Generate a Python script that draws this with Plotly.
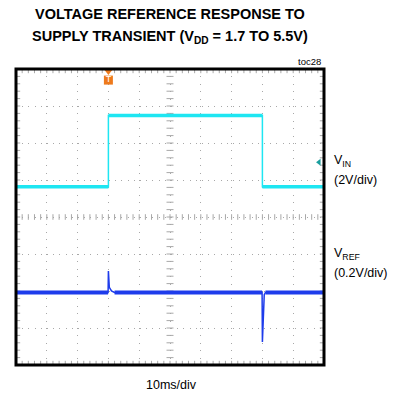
import numpy as np
import plotly.graph_objects as go

# ---- data (in scope divisions; x: 10 div @ 10ms/div, y: 8 div) ----
vin_time = [0, 3.0, 3.0, 8.0, 8.0, 10]
vin_div = [4.82, 4.82, 6.74, 6.74, 4.82, 4.82]

vref_time = [0, 2.99, 3.0, 3.03, 3.1, 3.2, 7.99, 8.0, 8.06, 8.1, 10]
vref_div = [1.96, 1.96, 2.54, 2.1, 2.0, 1.96, 1.96, 0.62, 1.9, 1.96, 1.96]

vin_marker_time = [9.84]
vin_marker_div = [5.48]
trigger_time = [3.0]

title_lines = ["VOLTAGE REFERENCE RESPONSE TO",
               "SUPPLY TRANSIENT (V<sub>DD</sub> = 1.7 TO 5.5V)"]

CYAN = "#1EE6F2"
BLUE = "#1E3CEB"
GRID = "#a8a8a8"
ORANGE = "#EE7A1C"
FONT = "Liberation Sans"

PL, PT, PR, PB = 16, 69, 324, 365  # plot box in page pixels
PW, PH = PR - PL, PB - PT


def flat_segments(t, v):
    xs, ys = [], []
    for i in range(len(t) - 1):
        if v[i] == v[i + 1]:
            xs += [t[i], t[i + 1], None]
            ys += [v[i], v[i + 1], None]
    return xs, ys


fig = go.Figure()

# graticule ticks along the center lines and borders
tx = np.round(np.arange(0, 10.001, 0.2), 3)
ty = np.round(np.arange(0, 8.001, 0.2), 3)
for yy in (0, 4, 8):
    fig.add_trace(go.Scatter(x=tx, y=[yy] * len(tx), mode="markers",
                             marker=dict(symbol="line-ns", size=6 if yy != 4 else 4,
                                         line=dict(color=GRID, width=1)),
                             hoverinfo="skip", showlegend=False))
for xx in (0, 5, 10):
    fig.add_trace(go.Scatter(x=[xx] * len(ty), y=ty, mode="markers",
                             marker=dict(symbol="line-ew", size=6 if xx != 5 else 5,
                                         line=dict(color=GRID, width=1)),
                             hoverinfo="skip", showlegend=False))

# VIN trace
fig.add_trace(go.Scatter(x=vin_time, y=vin_div, mode="lines",
                         line=dict(color=CYAN, width=1.5), showlegend=False))
sx, sy = flat_segments(vin_time, vin_div)
fig.add_trace(go.Scatter(x=sx, y=sy, mode="lines",
                         line=dict(color=CYAN, width=3.5), showlegend=False))

# VREF trace
fig.add_trace(go.Scatter(x=vref_time, y=vref_div, mode="lines",
                         line=dict(color=BLUE, width=1.5), showlegend=False))
sx, sy = flat_segments(vref_time, vref_div)
fig.add_trace(go.Scatter(x=sx, y=sy, mode="lines",
                         line=dict(color=BLUE, width=4), showlegend=False))

# channel marker
fig.add_trace(go.Scatter(x=vin_marker_time, y=vin_marker_div, mode="markers",
                         marker=dict(symbol="triangle-left", size=6, color="#1a9e9e"),
                         showlegend=False, cliponaxis=False))

# trigger marker
fig.add_trace(go.Scatter(x=trigger_time, y=[7.93], mode="markers",
                         marker=dict(symbol="triangle-down", size=7, color=ORANGE),
                         showlegend=False, cliponaxis=False))
fig.add_trace(go.Scatter(x=trigger_time, y=[7.7], mode="markers+text",
                         marker=dict(symbol="square", size=9, color=ORANGE),
                         text=["T"], textposition="middle center",
                         textfont=dict(color="white", size=9, family=FONT),
                         showlegend=False, cliponaxis=False))

fig.add_shape(type="rect", xref="paper", yref="paper", x0=0, x1=1, y0=0, y1=1,
              line=dict(color="black", width=3), layer="above")


def txt(t, x, y, size=12.5, anchor="left", bold=False):
    return dict(text=("<b>" + t + "</b>") if bold else t, xref="paper", yref="paper",
                x=(x - PL) / PW, y=1 + (PT - y) / PH,
                xanchor=anchor, yanchor="middle", showarrow=False,
                font=dict(family=FONT, size=size, color="black"))


annotations = [
    txt(title_lines[0], 170, 14, size=14.5, anchor="center", bold=True),
    txt(title_lines[1], 170, 37, size=14.5, anchor="center", bold=True),
    txt("toc28", 323, 61, size=9.5, anchor="right"),
    txt("V<sub>IN</sub>", 332, 161),
    txt("(2V/div)", 332, 180),
    txt("V<sub>REF</sub>", 332, 254),
    txt("(0.2V/div)", 332, 273),
    txt("10ms/div", 172, 385, anchor="center"),
]

fig.update_layout(
    width=400, height=400,
    margin=dict(l=PL, r=400 - PR, t=PT, b=400 - PB),
    paper_bgcolor="white", plot_bgcolor="white",
    annotations=annotations,
    hovermode=False,
    xaxis=dict(range=[0, 10], dtick=1, showticklabels=False, ticks="",
               showgrid=True, gridcolor=GRID, gridwidth=1, griddash="1px,6.4px",
               zeroline=False, fixedrange=True),
    yaxis=dict(range=[0, 8], dtick=1, showticklabels=False, ticks="",
               showgrid=True, gridcolor=GRID, gridwidth=1, griddash="1px,5.2px",
               zeroline=False, fixedrange=True),
)

fig.write_html("out.html", config={"displayModeBar": False, "staticPlot": True},
               post_script="document.body.style.margin='0';")
